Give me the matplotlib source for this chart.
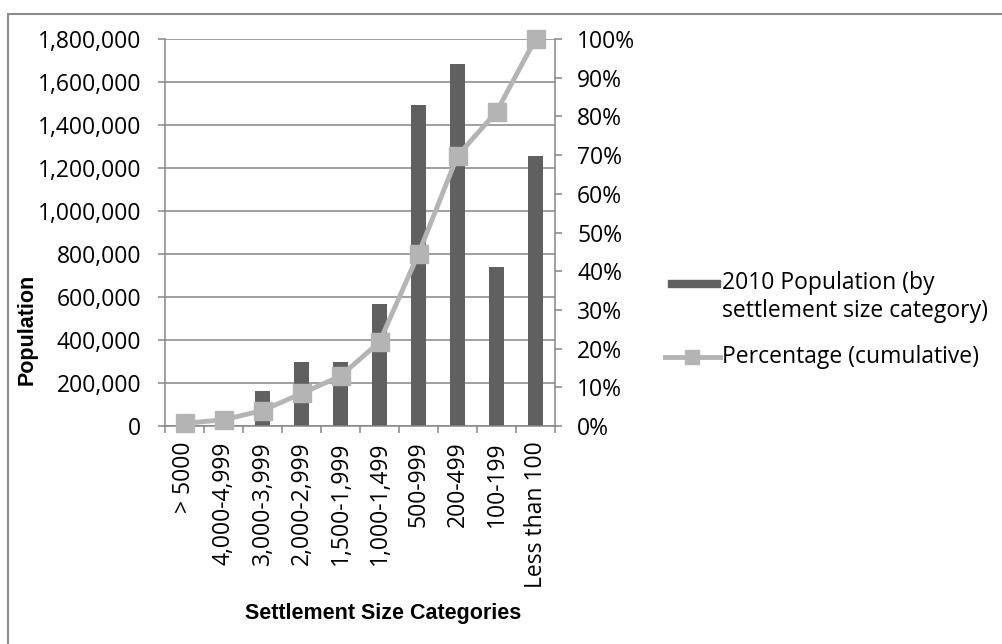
import numpy as np
import matplotlib
matplotlib.use("Agg")
import matplotlib.pyplot as plt
from matplotlib.patches import Rectangle
from matplotlib.lines import Line2D
from matplotlib.ticker import FuncFormatter, MultipleLocator

categories = ['> 5000', '4,000-4,999', '3,000-3,999', '2,000-2,999', '1,500-1,999',
              '1,000-1,499', '500-999', '200-499', '100-199', 'Less than 100']
population = [45000, 60000, 164000, 299000, 296000, 567000, 1494000, 1685000, 740000, 1254000]
cumulative_pct = [0.7, 1.6, 4.0, 8.4, 12.9, 21.7, 44.5, 69.8, 81.2, 100.0]

W, H = 1002, 644
bar_color = '#606060'
line_color = '#b4b4b4'
grid_color = '#868686'
font = ['Open Sans', 'DejaVu Sans']
bold_font = ['Liberation Sans', 'DejaVu Sans']
fs = 16.5

plt.rcParams['font.family'] = font

fig = plt.figure(figsize=(W / 100, H / 100), dpi=100)
ax = fig.add_axes([165 / W, 1 - 426 / H, (555 - 165) / W, (426 - 39) / H])
x = np.arange(len(categories))

ax.bar(x, population, width=0.4, color=bar_color, zorder=2)
ax.set_xlim(-0.5, len(categories) - 0.5)
ax.set_ylim(0, 1800000)
ax.yaxis.set_major_locator(MultipleLocator(200000))
ax.yaxis.set_major_formatter(FuncFormatter(lambda v, p: f"{int(v):,}"))
ax.grid(axis='y', color=grid_color, lw=1.1, zorder=0)
ax.set_axisbelow(True)
ax.set_xticks(x)
ax.set_xticklabels(categories, rotation=90, fontsize=fs)
ax.set_xticks(np.arange(len(categories) + 1) - 0.5, minor=True)
ax.tick_params(axis='x', which='major', length=0, pad=11)
ax.tick_params(axis='x', which='minor', length=5, width=1.1, color=grid_color, direction='out')
ax.tick_params(axis='y', length=5, width=1.1, color=grid_color, labelsize=fs, pad=12)
for s in ['top', 'right']:
    ax.spines[s].set_visible(False)
for s in ['left', 'bottom']:
    ax.spines[s].set_color(grid_color)
    ax.spines[s].set_linewidth(1.1)

ax2 = ax.twinx()
ax2.plot(x, cumulative_pct, color=line_color, lw=3.5, marker='s', markersize=13,
         markerfacecolor=line_color, markeredgecolor=line_color, zorder=3, clip_on=False)
ax2.set_ylim(0, 100)
ax2.yaxis.set_major_locator(MultipleLocator(10))
ax2.yaxis.set_major_formatter(FuncFormatter(lambda v, p: f"{int(v)}%"))
ax2.tick_params(axis='y', length=5, width=1.1, color=grid_color, labelsize=fs, pad=11)
for s in ['top', 'left', 'bottom']:
    ax2.spines[s].set_visible(False)
ax2.spines['right'].set_color(grid_color)
ax2.spines['right'].set_linewidth(1.1)

# axis titles
fig.text(383 / W, 1 - 613 / H, 'Settlement Size Categories', ha='center', va='center',
         fontsize=15.5, fontweight='bold', family=bold_font)
fig.text(27 / W, 1 - 329 / H, 'Population', ha='center', va='center', rotation=90,
         fontsize=15.5, fontweight='bold', family=bold_font)

# legend drawn by hand
fig.patches.append(Rectangle((668 / W, 1 - 287 / H), 52 / W, 7 / H, transform=fig.transFigure,
                             color=bar_color))
fig.text(722 / W, 1 - 283 / H, '2010 Population (by', va='center', fontsize=fs)
fig.text(722 / W, 1 - 311 / H, 'settlement size category)', va='center', fontsize=fs)
fig.lines.append(Line2D([665 / W, 720 / W], [1 - 357 / H] * 2, transform=fig.transFigure,
                        color=line_color, lw=3.5))
fig.lines.append(Line2D([692 / W], [1 - 357 / H], transform=fig.transFigure, lw=0,
                        marker='s', markersize=9.5, color=line_color))
fig.text(722 / W, 1 - 357 / H, 'Percentage (cumulative)', va='center', fontsize=fs)

# outer chart frame
fig.patches.append(Rectangle((8 / W, -0.1), 1.2, 1 - 14 / H + 0.1, transform=fig.transFigure,
                             fill=False, edgecolor='#8c8c8c', lw=1.5))

fig.savefig('out.png', dpi=100, facecolor='white')
